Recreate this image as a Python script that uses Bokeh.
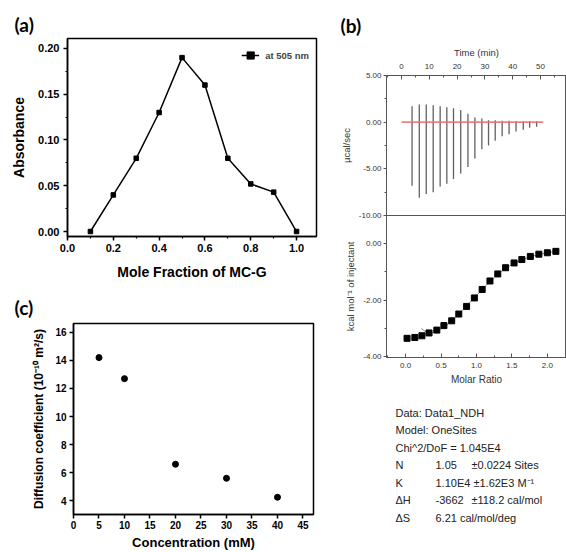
from bokeh.plotting import figure
from bokeh.models import (Range1d, SingleIntervalTicker, PrintfTickFormatter,
                          ColumnDataSource)
from bokeh.layouts import row, column
from bokeh.embed import file_html
from bokeh.resources import INLINE
from bokeh.core.properties import value

# ---------------- data ----------------
# (a) Job plot
mole_fraction = [0.1, 0.2, 0.3, 0.4, 0.5, 0.6, 0.7, 0.8, 0.9, 1.0]
absorbance = [0.0, 0.04, 0.08, 0.13, 0.19, 0.16, 0.08, 0.052, 0.043, 0.0]

# (c) diffusion coefficient
concentration = [5, 10, 20, 30, 40]
diffusion = [14.2, 12.7, 6.6, 5.6, 4.25]

# (b) ITC raw heat
inj_time = [3.8, 6.4, 8.9, 11.4, 13.9, 16.3, 18.7, 21.3, 23.9, 26.4,
            28.9, 31.3, 33.7, 36.2, 38.7, 41.2, 43.8, 46.1, 48.6]
peak_top = [1.7, 1.9, 1.9, 1.8, 1.7, 1.6, 1.5, 1.3, 0.9, 0.5,
            0.4, 0.2, 0.2, 0.15, 0.15, 0.1, 0.1, 0.1, 0.1]
peak_bottom = [-6.8, -8.1, -7.7, -7.5, -6.9, -6.6, -6.1, -5.5, -4.8, -3.9,
               -2.9, -2.5, -2.0, -1.5, -1.3, -1.0, -0.8, -0.6, -0.5]
baseline_t = [0, 51]
baseline_y = [0, 0]

# (b) ITC integrated heat
molar_ratio = [0.02, 0.13, 0.23, 0.33, 0.44, 0.54, 0.65, 0.75, 0.86, 0.97,
               1.08, 1.19, 1.30, 1.41, 1.53, 1.64, 1.76, 1.88, 2.00, 2.12]
heat = [-3.35, -3.32, -3.26, -3.16, -3.06, -2.90, -2.73, -2.49, -2.22, -1.92,
        -1.62, -1.32, -1.07, -0.85, -0.68, -0.56, -0.45, -0.37, -0.32, -0.27]
fit_ratio = [0.22, 0.33, 0.44, 0.54, 0.65, 0.75, 0.86, 0.97, 1.08, 1.19,
             1.30, 1.41, 1.53, 1.64, 1.76, 1.88, 2.00, 2.12]
fit_heat = [-3.0, -3.2, -3.1, -2.95, -2.75, -2.5, -2.2, -1.92, -1.62, -1.33,
            -1.08, -0.87, -0.70, -0.57, -0.46, -0.38, -0.32, -0.27]

# fit results text
fit_rows = [
    ["Data: Data1_NDH", "", ""],
    ["Model: OneSites", "", ""],
    ["Chi^2/DoF = 1.045E4", "", ""],
    ["N", "1.05", "\u00b10.0224 Sites"],
    ["K", "1.10E4 \u00b11.62E3 M\u207b\u00b9", ""],
    ["\u0394H", "-3662", "\u00b1118.2 cal/mol"],
    ["\u0394S", "6.21 cal/mol/deg", ""],
]

BOLD_FONT = "Liberation Sans"
PANEL_FONT = "Lato"


def origin_axis(ax, label, tick_size, label_size, standoff_lbl, standoff_axis):
    ax.axis_label = label
    ax.axis_label_text_font = BOLD_FONT
    ax.axis_label_text_font_size = label_size
    ax.axis_label_text_font_style = "bold"
    ax.axis_label_text_color = "black"
    ax.axis_label_standoff = standoff_axis
    ax.major_label_text_font = BOLD_FONT
    ax.major_label_text_font_size = tick_size
    ax.major_label_text_font_style = "bold"
    ax.major_label_text_color = "black"
    ax.major_label_standoff = standoff_lbl
    ax.axis_line_color = "black"
    ax.axis_line_width = 1.5
    ax.major_tick_line_color = "black"
    ax.major_tick_line_width = 1.5
    ax.minor_tick_line_color = "black"
    ax.minor_tick_line_width = 1.2
    ax.major_tick_in = 0
    ax.major_tick_out = 4
    ax.minor_tick_in = 0
    ax.minor_tick_out = 2


def panel_title(p, text, offset, standoff):
    p.title.text = text
    p.title.align = "left"
    p.title.offset = offset
    p.title.standoff = standoff
    p.title.text_font = PANEL_FONT
    p.title.text_font_size = "19px"
    p.title.text_font_style = "bold"
    p.title.text_color = "black"


# ---------------- (a) ----------------
pa = figure(width=330, height=288, x_range=Range1d(0, 1.087),
            y_range=Range1d(-0.00546, 0.2109), output_backend="svg",
            toolbar_location=None, min_border_left=67, min_border_right=14,
            min_border_top=38, min_border_bottom=52)
pa.grid.visible = False
pa.outline_line_color = "black"
pa.outline_line_width = 1.5
pa.line(mole_fraction, absorbance, line_color="black", line_width=1.5,
        legend_label="at 505 nm")
pa.scatter(mole_fraction, absorbance, marker="square", size=4.5, color="black",
           legend_label="at 505 nm")
xa = pa.xaxis[0]
xa.ticker = SingleIntervalTicker(interval=0.2, num_minor_ticks=2)
xa.formatter = PrintfTickFormatter(format="%.1f")
origin_axis(xa, "Mole Fraction of MC-G", "11px", "14px", 3, 9)
ya = pa.yaxis[0]
ya.ticker = SingleIntervalTicker(interval=0.05, num_minor_ticks=2)
ya.formatter = PrintfTickFormatter(format="%.2f")
origin_axis(ya, "Absorbance", "11px", "14px", 4, 8)
lg = pa.legend[0]
lg.location = "top_right"
lg.border_line_color = None
lg.background_fill_alpha = 0
lg.margin = 7
lg.padding = 2
lg.label_text_font = BOLD_FONT
lg.label_text_font_size = "9.5px"
lg.label_text_font_style = "bold"
lg.glyph_width = 18
lg.glyph_height = 20
lg.label_height = 20
lg.label_standoff = 6
panel_title(pa, "(a)", -53, 6)

# ---------------- (c) ----------------
pc = figure(width=330, height=264, x_range=Range1d(0, 47.06),
            y_range=Range1d(3.02, 16.63), output_backend="svg",
            toolbar_location=None, min_border_left=73, min_border_right=17,
            min_border_top=34, min_border_bottom=35)
pc.grid.visible = False
pc.outline_line_color = "black"
pc.outline_line_width = 1.5
pc.scatter(concentration, diffusion, marker="circle", size=6, color="black")
xc = pc.xaxis[0]
xc.ticker = SingleIntervalTicker(interval=5, num_minor_ticks=0)
origin_axis(xc, "Concentration (mM)", "10px", "13px", 2, 3)
yc = pc.yaxis[0]
yc.ticker = SingleIntervalTicker(interval=2, num_minor_ticks=0)
origin_axis(yc, "Diffusion coefficient (10\u207b\u00b9\u2070 m\u00b2/s)", "10px", "12px", 3, 6)
panel_title(pc, "(c)", -59, 10)

# ---------------- (b) ITC ----------------
GREY = "#555555"
TXT = "#333333"


def itc_axis(ax, label, ticks_in):
    ax.axis_label = label
    ax.axis_label_text_font = "Liberation Sans"
    ax.axis_label_text_font_size = "9.5px"
    ax.axis_label_text_font_style = "normal"
    ax.axis_label_text_color = TXT
    ax.axis_label_standoff = 4
    ax.major_label_text_font = "Liberation Sans"
    ax.major_label_text_font_size = "8px"
    ax.major_label_text_color = TXT
    ax.axis_line_color = GREY
    ax.major_tick_line_color = GREY
    ax.minor_tick_line_color = GREY
    if ticks_in:
        ax.major_tick_in = 4
        ax.major_tick_out = 0
        ax.minor_tick_in = 2
        ax.minor_tick_out = 0
        ax.major_label_standoff = 2
    else:
        ax.major_tick_in = 0
        ax.major_tick_out = 3
        ax.minor_tick_in = 0
        ax.minor_tick_out = 2
        ax.major_label_standoff = 2


OVER = 6  # strip of the raw-heat panel that lies under the lower panel

pb1 = figure(width=236, height=215 + OVER, x_range=Range1d(-5.4, 59.35),
             y_range=Range1d(-10, 5), x_axis_location="above",
             output_backend="svg", toolbar_location=None,
             min_border_left=56, min_border_right=0, min_border_top=75,
             min_border_bottom=OVER)
pb1.grid.visible = False
pb1.outline_line_color = GREY
pb1.segment(x0=inj_time, y0=peak_bottom, x1=inj_time, y1=peak_top,
            line_color="#3a3a3a", line_width=1.3, line_alpha=0.8)
pb1.line(baseline_t, baseline_y, line_color="#f06a6a", line_width=1.6,
         line_alpha=0.85)
tx = pb1.xaxis[0]
tx.ticker = SingleIntervalTicker(interval=10, num_minor_ticks=2)
itc_axis(tx, "Time (min)", True)
tx.major_label_standoff = 7
tx.axis_label_standoff = 3
ty = pb1.yaxis[0]
ty.ticker = SingleIntervalTicker(interval=5, num_minor_ticks=2)
ty.formatter = PrintfTickFormatter(format="%.2f")
itc_axis(ty, "\u00b5cal/sec", False)
panel_title(pb1, "(b)", -46, 14)

pb2 = figure(width=236, height=177, x_range=Range1d(-0.27, 2.27),
             y_range=Range1d(-4.03, 1.0), output_backend="svg",
             toolbar_location=None, min_border_left=56, min_border_right=0,
             min_border_top=0, min_border_bottom=35,
             margin=(-OVER, 0, 0, 0))
pb2.background_fill_color = None
pb2.border_fill_color = None
pb2.grid.visible = False
pb2.outline_line_color = GREY
pb2.line(fit_ratio, fit_heat, line_color="#8a8a8a", line_width=1)
pb2.scatter(molar_ratio, heat, marker="square", size=6, color="black")
bx = pb2.xaxis[0]
bx.ticker = SingleIntervalTicker(interval=0.5, num_minor_ticks=2)
bx.formatter = PrintfTickFormatter(format="%.1f")
itc_axis(bx, "Molar Ratio", True)
bx.axis_label_text_font_size = "10px"
bx.axis_label_standoff = 3
bx.major_label_standoff = 5
by = pb2.yaxis[0]
by.ticker = SingleIntervalTicker(interval=2, num_minor_ticks=2)
by.formatter = PrintfTickFormatter(format="%.2f")
itc_axis(by, "kcal mol\u207b\u00b9 of injectant", False)

# fit parameters text (frame shares the 56 px left border of the ITC panels,
# the x range is in pixels from the figure's left edge)
pb3 = figure(width=236, height=160, x_range=Range1d(56, 236),
             y_range=Range1d(160, 0), output_backend="svg",
             toolbar_location=None, min_border_left=56, min_border_right=0,
             min_border_top=0, min_border_bottom=0,
             x_axis_location=None, y_axis_location=None)
pb3.grid.visible = False
pb3.outline_line_color = None
line_y = [20 + 17.5 * i for i in range(len(fit_rows))]
col_x = [65, 105, 141]
for ci in range(3):
    src = ColumnDataSource(dict(x=[col_x[ci]] * len(fit_rows), y=line_y,
                                t=[r[ci] for r in fit_rows]))
    pb3.text(x="x", y="y", text="t", source=src, text_font=value("Liberation Sans"),
             text_font_size="11px", text_color="#222222",
             text_baseline="middle", text_align="left")

layout = row(column(pa, row(pc)), column(pb1, pb2, pb3))
open("out.html", "w").write(file_html(layout, INLINE))
